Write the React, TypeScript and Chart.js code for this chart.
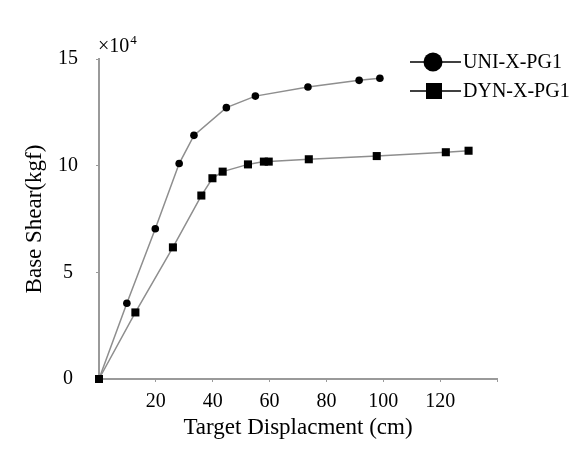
import React, { useEffect, useRef } from "react";
import { Chart, registerables } from "chart.js";

Chart.register(...registerables);

const seriesNames = ["UNI-X-PG1", "DYN-X-PG1"];
const uniX = [0, 9.8, 19.8, 28.2, 33.4, 44.8, 55.0, 73.5, 91.5, 98.8];
const uniY = [0, 3.55, 7.04, 10.1, 11.42, 12.72, 13.26, 13.69, 14.0, 14.1];
const dynX = [0, 12.8, 26.0, 36.0, 39.9, 43.5, 52.4, 58.0, 59.7, 73.8, 97.7, 122, 130];
const dynY = [0, 3.12, 6.17, 8.6, 9.41, 9.72, 10.06, 10.19, 10.19, 10.3, 10.45, 10.63, 10.7];
const xTicks = [0, 20, 40, 60, 80, 100, 120, 140];
const yTicks = [0, 5, 10, 15];
const xTitle = "Target Displacment (cm)";
const yTitle = "Base Shear(kgf)";
const yUnitBase = "×10";
const yUnitExp = "4";

const FONT = "'Liberation Serif', 'Times New Roman', serif";
const LINE = "#8e8e8e";
const AXIS = "#9a9a9a";

const overlay = {
  id: "overlay",
  afterDraw(chart: any) {
    const ctx = chart.ctx;
    ctx.save();
    ctx.fillStyle = "#000";
    ctx.textBaseline = "alphabetic";
    ctx.textAlign = "left";
    ctx.font = `20px ${FONT}`;
    ctx.fillText(yUnitBase, 98, 52);
    const w = ctx.measureText(yUnitBase).width;
    ctx.font = `13px ${FONT}`;
    ctx.fillText(yUnitExp, 98 + w + 1, 44);

    // legend
    const items = chart.data.datasets;
    items.forEach((ds: any, i: number) => {
      const y = 62 + i * 29;
      ctx.strokeStyle = "#000";
      ctx.lineWidth = 1.5;
      ctx.beginPath();
      ctx.moveTo(410, y);
      ctx.lineTo(461, y);
      ctx.stroke();
      ctx.fillStyle = "#000";
      if (ds.pointStyle === "circle") {
        ctx.beginPath();
        ctx.arc(433, y, 9.5, 0, Math.PI * 2);
        ctx.fill();
      } else {
        ctx.fillRect(426, y - 8, 16, 16);
      }
      ctx.font = `20px ${FONT}`;
      ctx.textBaseline = "middle";
      ctx.fillText(ds.label, 463, y + 1);
    });
    ctx.restore();
  },
};

export default function App() {
  const ref = useRef<HTMLCanvasElement>(null);
  useEffect(() => {
    const canvas = ref.current!;
    const chart = new Chart(canvas, {
      type: "line",
      data: {
        datasets: [
          {
            label: seriesNames[0],
            data: uniX.map((x, i) => ({ x, y: uniY[i] })),
            borderColor: LINE,
            borderWidth: 1.5,
            pointStyle: "circle",
            pointRadius: 3.8,
            pointBackgroundColor: "#000",
            pointBorderColor: "#000",
            pointBorderWidth: 0,
            order: 1,
            clip: false as any,
          },
          {
            label: seriesNames[1],
            data: dynX.map((x, i) => ({ x, y: dynY[i] })),
            borderColor: LINE,
            borderWidth: 1.5,
            pointStyle: "rect",
            pointRadius: 5.7,
            pointBackgroundColor: "#000",
            pointBorderColor: "#000",
            pointBorderWidth: 0,
            order: 0,
            clip: false as any,
          },
        ],
      },
      options: {
        responsive: false,
        animation: false,
        layout: { padding: { top: 59, right: 82, left: 10, bottom: 0 } },
        plugins: { legend: { display: false }, tooltip: { enabled: false } },
        scales: {
          x: {
            type: "linear",
            min: 0,
            max: 140,
            afterBuildTicks: (s: any) => {
              s.ticks = xTicks.map((v) => ({ value: v }));
            },
            afterFit: (s: any) => {
              s.height = 450 - 379;
            },
            grid: { drawOnChartArea: false, color: AXIS, tickLength: 3, tickWidth: 1 },
            border: { color: AXIS, width: 2 },
            ticks: {
              color: "#000",
              padding: 8,
              maxRotation: 0,
              font: { family: FONT, size: 20 },
              callback: (v: any) => (v === 0 || v === 140 ? "" : String(v)),
            },
            title: {
              display: true,
              text: xTitle,
              color: "#000",
              font: { family: FONT, size: 23 },
              padding: { top: 0, bottom: 8 },
            },
          },
          y: {
            type: "linear",
            min: 0,
            max: 15,
            afterBuildTicks: (s: any) => {
              s.ticks = yTicks.map((v) => ({ value: v }));
            },
            afterFit: (s: any) => {
              s.width = 99 - 10;
            },
            grid: { drawOnChartArea: false, color: AXIS, tickLength: 3, tickWidth: 1 },
            border: { color: AXIS, width: 2 },
            ticks: {
              color: "#000",
              padding: 18,
              crossAlign: "center",
              font: { family: FONT, size: 20 },
              callback: (v: any) => String(v),
            },
            title: {
              display: true,
              text: yTitle,
              color: "#000",
              font: { family: FONT, size: 23 },
              padding: { top: 11, bottom: 0 },
            },
          },
        },
      },
      plugins: [overlay],
    });
    return () => chart.destroy();
  }, []);
  return (
    <div style={{ position: "absolute", left: 0, top: 0, width: 579, height: 450, background: "#fff" }}>
      <canvas ref={ref} width={579} height={450} />
    </div>
  );
}
